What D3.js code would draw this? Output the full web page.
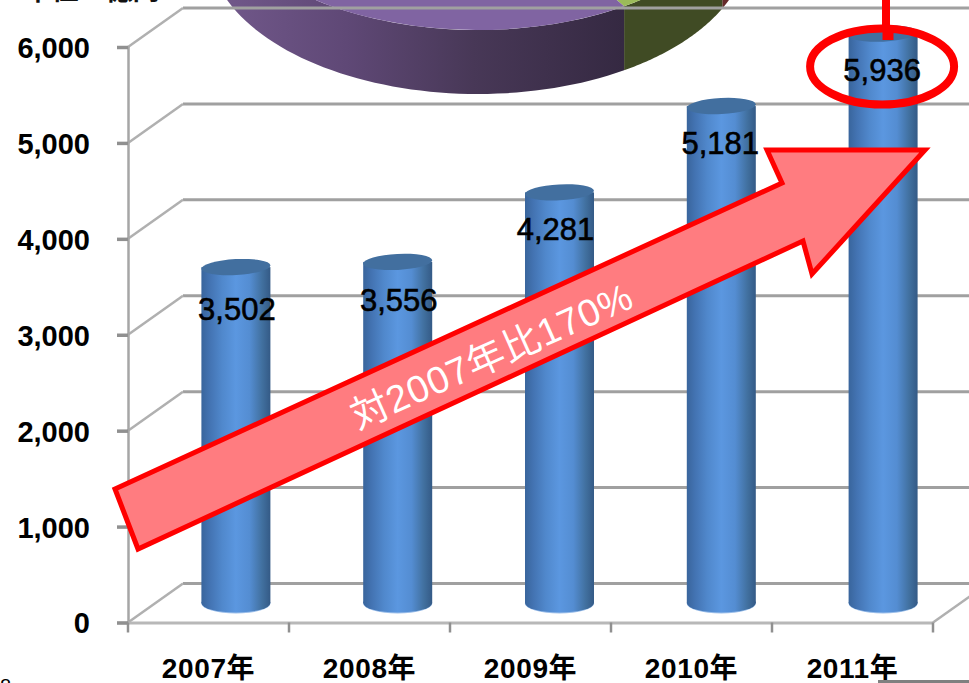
<!DOCTYPE html>
<html lang="ja">
<head>
<meta charset="utf-8">
<title>2007年から2011年の推移</title>
<script src="https://cdn.jsdelivr.net/npm/d3@7/dist/d3.min.js"></script>
<style>
  html, body { margin: 0; padding: 0; background: #fff; overflow: hidden; }
  svg { display: block; }
  text { font-family: "Liberation Sans", "Noto Sans CJK JP", sans-serif; }
</style>
</head>
<body>
<script>
// Yearly totals
const years = ["2007年", "2008年", "2009年", "2010年", "2011年"];
const totals = [3502, 3556, 4281, 5181, 5936];
const axisTicks = [0, 1000, 2000, 3000, 4000, 5000, 6000];

// Composition pie that runs off the top of the chart, clockwise from twelve o'clock
const pieShares = [32.0, 8.9, 59.1];
const pieTopColors = ["#a84a48", "#9bbb59", "#8064a2"];
const pieSideColors = ["#652a2a", "#404b24", "url(#pieSide)"];

const unitLabel = "単位：億円";
const pieLabel = "9%";
const arrowLabel = "対2007年比170%";
const footnoteMark = "8";

const W = 969, H = 683;
const depth = { x: 55, y: -39 };
const barRx = 34.5;

const svg = d3.select("body").append("svg").attr("width", W).attr("height", H);
const defs = svg.append("defs");

const y = d3.scaleLinear().domain([0, 6000]).range([622.5, 47]);
const x = d3.scaleBand().domain(years).range([128, 933]).padding(0);
const yearAxisEnd = x.range()[1];
// The cylinders are spaced slightly wider than the floor ticks by the perspective
const barX = d3.scaleBand().domain(years).range([155, 964]).padding(0);

// Cylinder shading
const shade = defs.append("linearGradient").attr("id", "barShade");
[[0, "#39659c"], [0.12, "#4373b2"], [0.3, "#5088cc"], [0.5, "#5b97e0"], [0.7, "#548dd2"], [0.88, "#41709f"], [1, "#345a86"]]
  .forEach(([o, c]) => shade.append("stop").attr("offset", o).attr("stop-color", c));

const pieSide = defs.append("linearGradient").attr("id", "pieSide")
  .attr("gradientUnits", "userSpaceOnUse").attr("x1", 228).attr("x2", 623).attr("y1", 0).attr("y2", 0);
[[0, "#705789"], [0.3, "#5f4876"], [0.62, "#483857"], [1, "#352942"]]
  .forEach(([o, c]) => pieSide.append("stop").attr("offset", o).attr("stop-color", c));

// Pie: a tilted disc with a visible rim
const pieGeo = { cx: 478, cy: -119, rx: 270, ry: 149, thick: 64 };
const pieG = svg.append("g");
const slices = d3.pie().sort(null).value(d => d)(pieShares);
const onRim = (a, dy) => [pieGeo.cx + pieGeo.rx * Math.sin(a), pieGeo.cy + dy - pieGeo.ry * Math.cos(a)];

slices.forEach((s, i) => {
  const a0 = Math.max(s.startAngle, Math.PI / 2), a1 = Math.min(s.endAngle, Math.PI * 1.5);
  if (a1 <= a0) return;
  const steps = d3.range(0, 61).map(t => a0 + (a1 - a0) * t / 60);
  const outline = steps.map(a => onRim(a, 0)).concat(steps.slice().reverse().map(a => onRim(a, pieGeo.thick)));
  pieG.append("path").attr("d", d3.line()(outline) + "Z").attr("fill", pieSideColors[i]);
});
const topArc = d3.arc().innerRadius(0).outerRadius(1);
pieG.append("g")
  .attr("transform", `translate(${pieGeo.cx},${pieGeo.cy}) scale(${pieGeo.rx},${pieGeo.ry})`)
  .selectAll("path").data(slices).join("path")
  .attr("d", topArc).attr("fill", (d, i) => pieTopColors[i]);

svg.append("text").attr("x", 623).attr("y", 0).attr("text-anchor", "middle")
  .attr("font-size", 26).attr("font-weight", 700).attr("fill", "#000").text(pieLabel);
svg.append("text").attr("x", 92).attr("y", 0).attr("text-anchor", "middle")
  .attr("font-size", 27).attr("font-weight", 700).attr("fill", "#111").text(unitLabel);

// Back wall, side wall and floor lines
const wall = svg.append("g").attr("fill", "none");
wall.selectAll("line.back").data(axisTicks).join("line").attr("class", "back")
  .attr("x1", x.range()[0] + depth.x).attr("x2", W)
  .attr("y1", d => y(d) + depth.y).attr("y2", d => y(d) + depth.y)
  .attr("stroke", "#a0a0a0").attr("stroke-width", 3);
wall.selectAll("line.side").data(axisTicks).join("line").attr("class", "side")
  .attr("x1", x.range()[0]).attr("x2", x.range()[0] + depth.x)
  .attr("y1", d => y(d)).attr("y2", d => y(d) + depth.y)
  .attr("stroke", "#b0b0b0").attr("stroke-width", 2.5);
wall.append("line")
  .attr("x1", yearAxisEnd).attr("x2", yearAxisEnd + depth.x)
  .attr("y1", y(0)).attr("y2", y(0) + depth.y)
  .attr("stroke", "#b0b0b0").attr("stroke-width", 2.5);

// Value axis
const yAxis = svg.append("g").attr("transform", `translate(${x.range()[0]},0)`)
  .call(d3.axisLeft(y).tickValues(axisTicks).tickSize(11).tickPadding(27).tickFormat(d3.format(",")));
yAxis.select(".domain").attr("stroke", "#a6a6a6").attr("stroke-width", 2.5);
yAxis.selectAll(".tick line").attr("stroke", "#909090").attr("stroke-width", 3.5);
yAxis.selectAll("text").attr("font-size", 29).attr("font-weight", 700).attr("fill", "#000")
  .attr("dy", "0.36em").style("font-family", '"Liberation Sans", sans-serif');

// Category axis: labels centred in each band, ticks on the band edges
const xAxis = svg.append("g").attr("transform", `translate(0,${y(0)})`)
  .call(d3.axisBottom(x).tickSize(0).tickPadding(36));
xAxis.select(".domain").attr("stroke", "#b8b8b8").attr("stroke-width", 3);
xAxis.selectAll("text").attr("font-size", 28).attr("font-weight", 700).attr("letter-spacing", 0.6).attr("fill", "#000");
xAxis.selectAll("line.edge").data(years.map(d => x(d)).concat(yearAxisEnd)).join("line").attr("class", "edge")
  .attr("x1", d => d).attr("x2", d => d).attr("y1", 0).attr("y2", 10)
  .attr("stroke", "#909090").attr("stroke-width", 2.5);

// Cylinders stand halfway into the floor depth
const barCx = d => barX(d) + barX.bandwidth() / 2;
const barBase = y(0) + depth.y / 2;
const barTop = v => barBase - (y(0) - y(v));
const bars = svg.append("g").selectAll("g").data(years.map((d, i) => ({ year: d, value: totals[i] }))).join("g");
bars.append("ellipse").attr("cx", d => barCx(d.year)).attr("cy", barBase + 0.5)
  .attr("rx", barRx).attr("ry", 10).attr("fill", "#9cbfea");
bars.append("ellipse").attr("cx", d => barCx(d.year)).attr("cy", barBase)
  .attr("rx", barRx).attr("ry", 9.5).attr("fill", "url(#barShade)");
bars.append("rect").attr("x", d => barCx(d.year) - barRx).attr("width", barRx * 2)
  .attr("y", d => barTop(d.value)).attr("height", d => barBase - barTop(d.value))
  .attr("fill", "url(#barShade)");
bars.append("ellipse").attr("cx", 0).attr("cy", 0).attr("rx", barRx).attr("ry", 8)
  .attr("transform", d => `translate(${barCx(d.year)},${barTop(d.value)}) rotate(-3)`)
  .attr("fill", "#426f9f");

// Value labels, nudged the way the labels sit on the cylinders
const labelNudge = [[1, 5], [1, 2], [-4, 0], [-1, 0], [-1, 0]];
svg.append("g").selectAll("text").data(bars.data()).join("text")
  .attr("x", (d, i) => barCx(d.year) + labelNudge[i][0])
  .attr("y", (d, i) => barTop(d.value) + 47.5 + labelNudge[i][1])
  .attr("text-anchor", "middle").attr("font-size", 31).attr("fill", "#000")
  .attr("stroke", "#000").attr("stroke-width", 0.6)
  .text(d => d3.format(",")(d.value));

// Growth arrow
const arrowOutline = [[115, 489], [782, 183], [767, 150], [925, 150], [812, 274], [803, 241], [138, 549]];
svg.append("polygon").attr("points", arrowOutline.join(" "))
  .attr("fill", "#ff7c80").attr("stroke", "#ff0000").attr("stroke-width", 5).attr("stroke-linejoin", "miter");
svg.append("text").attr("transform", "translate(497,368) rotate(-24)")
  .attr("text-anchor", "middle").attr("font-size", 38).attr("letter-spacing", 0.8).attr("fill", "#fff").text(arrowLabel);

// Callout around the latest total, with its leader running off the top
const lastYear = years[years.length - 1];
const callout = { cx: barCx(lastYear) - 1, cy: 66.5 };
svg.append("ellipse").attr("cx", callout.cx).attr("cy", callout.cy).attr("rx", 72).attr("ry", 38)
  .attr("fill", "none").attr("stroke", "#ff0000").attr("stroke-width", 8);
svg.append("line").attr("x1", 886).attr("x2", 886).attr("y1", 0).attr("y2", 32)
  .attr("stroke", "#ff0000").attr("stroke-width", 8);
svg.append("line").attr("x1", 888).attr("x2", 888).attr("y1", 28).attr("y2", 40)
  .attr("stroke", "#ff0000").attr("stroke-width", 11);

// Edges of neighbouring page content at the bottom
svg.append("text").attr("x", 0).attr("y", 693).attr("font-size", 20).attr("fill", "#000").text(footnoteMark);
svg.append("line").attr("x1", 878).attr("x2", W).attr("y1", 681.5).attr("y2", 681.5)
  .attr("stroke", "#808080").attr("stroke-width", 3);
</script>
</body>
</html>
